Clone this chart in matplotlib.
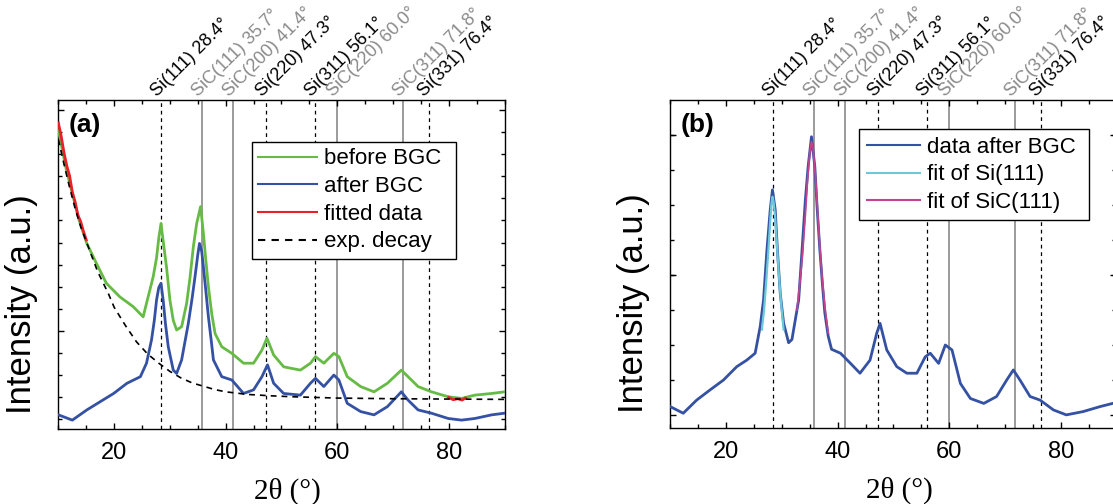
import numpy as np
import matplotlib
matplotlib.use("Agg")
import matplotlib.pyplot as plt
import matplotlib.transforms as mtransforms
from matplotlib.ticker import FixedLocator, MultipleLocator

plt.rcParams['font.family'] = ['Liberation Sans', 'DejaVu Sans']

# reference reflections (2theta in deg)
refl_pos = [28.4, 35.7, 41.4, 47.3, 56.1, 60.0, 71.8, 76.4]
refl_name = ['Si(111)', 'SiC(111)', 'SiC(200)', 'Si(220)',
             'Si(311)', 'SiC(220)', 'SiC(311)', 'Si(331)']

# panel (a): raw pattern (before BGC)
before_x = [10.0, 11.3, 12.5, 13.7, 15.1, 16.8, 18.6, 21.0, 23.4, 25.2, 25.8, 27.0,
            27.6, 28.0, 28.4, 28.8, 29.4, 30.0, 30.6, 31.2, 32.1, 33.0, 33.6, 34.2,
            34.8, 35.5, 36.0, 36.4, 36.9, 37.5, 38.1, 39.3, 41.1, 43.2, 45.0, 46.5,
            47.4, 48.6, 50.4, 53.4, 55.2, 56.1, 57.6, 59.4, 60.3, 61.8, 64.2, 66.6,
            69.0, 71.5, 72.7, 74.5, 76.9, 79.9, 82.3, 84.7, 87.7, 90.0]
before_y = [90.9, 79.7, 71.6, 63.5, 56.4, 50.4, 44.3, 40.2, 37.2, 34.1, 38.2, 46.3,
            52.0, 58.0, 62.5, 57.0, 49.0, 39.2, 33.0, 30.1, 31.1, 38.2, 46.0, 55.4,
            62.5, 67.6, 59.5, 52.0, 43.3, 35.0, 29.0, 25.0, 23.0, 20.0, 20.0, 24.0,
            27.6, 22.5, 18.9, 17.9, 20.0, 22.0, 20.0, 23.0, 22.0, 15.9, 12.9, 11.3,
            13.9, 17.9, 15.9, 12.9, 11.3, 9.8, 9.3, 10.3, 10.8, 11.3]

# panel (a): after background correction
after_x = [10.0, 12.5, 15.1, 17.5, 19.9, 22.3, 24.7, 25.8, 26.7, 27.2, 27.6, 28.0,
           28.4, 28.8, 29.2, 29.7, 30.6, 31.2, 32.1, 33.3, 34.0, 34.5, 35.0, 35.3,
           35.7, 36.0, 36.5, 36.9, 37.4, 37.8, 39.3, 41.1, 43.2, 45.0, 46.5, 47.5,
           48.6, 50.4, 53.4, 55.2, 56.1, 57.6, 59.4, 60.3, 61.8, 64.2, 66.6, 69.0,
           71.5, 72.7, 74.5, 76.9, 79.9, 82.3, 84.7, 87.7, 90.0]
after_y = [4.3, 2.7, 5.8, 8.3, 10.8, 13.9, 15.9, 20.0, 27.1, 33.0, 39.2, 43.0,
           44.3, 39.0, 32.0, 25.0, 17.9, 16.9, 21.0, 32.1, 40.0, 46.3, 53.0, 56.4,
           54.0, 49.3, 41.0, 34.1, 27.0, 21.0, 15.9, 14.9, 10.8, 11.9, 15.9, 19.5,
           13.9, 10.8, 10.3, 13.9, 15.4, 12.9, 16.4, 14.9, 7.8, 5.3, 4.3, 6.8,
           11.3, 8.8, 5.8, 4.8, 3.2, 2.7, 3.2, 4.3, 4.8]

# panel (a): data ranges used for the background fit
fit_lo_x = [10.0, 10.5, 11.0, 11.5, 12.0, 12.5, 13.0, 13.5, 14.0, 14.5, 15.0]
fit_lo_y = [93.0, 89.0, 84.0, 80.0, 77.0, 72.0, 69.0, 65.0, 63.0, 60.0, 57.5]
fit_hi_x = [80.0, 80.8, 81.6, 82.4, 83.0]
fit_hi_y = [9.6, 8.9, 9.2, 8.8, 9.4]

# panel (a): exponential background
decay_x = [10, 11, 12, 13, 14, 15, 16, 17, 18, 19, 20, 22, 24, 26, 28, 30, 32, 34,
           36, 38, 40, 44, 48, 52, 60, 70, 80, 90]
decay_y = [88.0, 80.5, 73.5, 67.0, 61.5, 57.0, 52.5, 48.0, 44.5, 41.0, 37.0, 31.5,
           26.5, 22.8, 20.0, 17.5, 15.5, 14.0, 13.0, 12.0, 11.3, 10.5, 10.1, 9.8,
           9.4, 9.2, 9.1, 9.0]

# panel (b): corrected pattern
bgc_x = [10.0, 12.3, 14.7, 17.1, 19.5, 21.9, 23.7, 25.2, 26.1, 26.7, 27.3, 27.9,
         28.3, 28.8, 29.2, 29.7, 30.3, 31.2, 31.8, 32.4, 33.0, 33.6, 34.2, 34.7,
         35.3, 35.9, 36.3, 36.8, 37.3, 37.7, 38.3, 38.9, 40.5, 42.3, 44.0, 45.8,
         47.0, 47.6, 48.8, 50.6, 52.4, 54.2, 55.7, 56.6, 58.1, 59.3, 60.5, 62.0,
         63.8, 66.2, 68.5, 70.3, 71.5, 72.7, 74.5, 76.3, 78.7, 81.0, 84.0, 87.0, 90.0]
bgc_y = [6.5, 4.5, 8.5, 11.6, 14.6, 18.7, 20.7, 22.8, 30.9, 39.0, 54.0, 66.5,
         72.6, 66.5, 54.0, 41.0, 32.0, 26.0, 27.0, 33.0, 39.0, 54.0, 69.5, 79.7,
         88.8, 79.7, 67.5, 54.3, 43.0, 35.0, 28.0, 24.0, 22.8, 19.7, 16.7, 20.7,
         28.9, 31.9, 23.8, 18.7, 16.7, 16.7, 21.7, 22.8, 19.7, 25.3, 23.8, 13.6,
         9.0, 7.5, 9.6, 14.6, 17.7, 14.6, 9.6, 8.5, 5.5, 4.0, 5.0, 6.5, 7.8]

# panel (b): peak fits
fit_si_x = [26.4, 26.8, 27.2, 27.6, 27.9, 28.1, 28.3, 28.5, 28.8, 29.1, 29.4, 29.8, 30.3]
fit_si_y = [30.0, 36.0, 45.0, 55.0, 63.0, 68.0, 70.5, 69.0, 64.0, 56.0, 48.0, 39.0, 30.0]
fit_sic_x = [32.7, 33.2, 33.7, 34.2, 34.6, 35.0, 35.3, 35.6, 36.0, 36.4, 36.8, 37.2,
             37.7, 38.3]
fit_sic_y = [36.0, 44.0, 53.0, 65.0, 76.0, 84.0, 87.3, 85.0, 77.0, 66.0, 55.0, 46.0,
             37.0, 29.0]

GREEN = '#66bb44'
BLUE = '#3451a3'
RED = '#e8202a'
CYAN = '#6cc9d9'
MAGENTA = '#c2448e'
GREY = '#8a8a8a'

fig = plt.figure(figsize=(11.13, 5.04), dpi=100)
ax1 = fig.add_axes([58.4 / 1113, 75 / 504, 446.1 / 1113, 329 / 504])
ax2 = fig.add_axes([670.4 / 1113, 76 / 504, 446.1 / 1113, 328 / 504])


def setup(ax, ymajor, yminor, tag):
    ax.set_xlim(10, 90)
    ax.set_ylim(0, 100)
    ax.xaxis.set_major_locator(FixedLocator([20, 40, 60, 80]))
    ax.xaxis.set_minor_locator(MultipleLocator(5))
    ax.set_yticks(ymajor)
    ax.set_yticks(yminor, minor=True)
    ax.set_yticklabels([])
    ax.tick_params(which='both', direction='in', top=True, right=True,
                   width=1.0, labelsize=17, pad=9.5)
    ax.tick_params(which='major', length=4.5)
    ax.tick_params(which='minor', length=2.6)
    for s in ax.spines.values():
        s.set_linewidth(1.0)
    ax.set_xlabel('2θ (°)', family='Liberation Serif', size=21)
    ax.xaxis.set_label_coords(0.514, -0.148)
    ax.set_ylabel('Intensity (a.u.)', size=25)
    ax.yaxis.set_label_coords(-0.046, 0.38)

    trans = mtransforms.offset_copy(ax.get_xaxis_transform(), fig=fig,
                                    x=-4, y=3, units='dots')
    for pos, name in zip(refl_pos, refl_name):
        is_sic = name.startswith('SiC')
        if is_sic:
            ax.axvline(pos, color='#808080', lw=1.1, zorder=1)
        else:
            ax.axvline(pos, color='black', lw=0.9, ls=(0, (3, 3)), zorder=1)
        ax.text(pos, 1.0, f'{name} {pos:.1f}°', transform=trans, rotation=45,
                rotation_mode='anchor', ha='left', va='baseline',
                color=GREY if is_sic else 'black', fontsize=13, clip_on=False)

    ax.text(0.022, 0.925, tag, transform=ax.transAxes, fontsize=19,
            fontweight='bold', ha='left', va='center')


# panel (a)
setup(ax1, [29.8, 97.0], [2.92 + 6.72 * k for k in range(15)], '(a)')
ax1.plot(before_x, before_y, color=GREEN, lw=2.0, label='before BGC', zorder=3)
ax1.plot(after_x, after_y, color=BLUE, lw=2.0, label='after BGC', zorder=3)
ax1.plot(fit_lo_x, fit_lo_y, color=RED, lw=2.0, label='fitted data', zorder=4)
ax1.plot(fit_hi_x, fit_hi_y, color=RED, lw=2.0, zorder=4)
ax1.plot(decay_x, decay_y, color='black', lw=1.2, ls=(0, (3.5, 3)),
         label='exp. decay', zorder=5)

leg1 = ax1.legend(loc='upper left', bbox_to_anchor=(0.4333, 0.0, 0.458, 0.873),
                  mode='expand', fontsize=16, fancybox=False, edgecolor='black',
                  framealpha=1, handlelength=2.65, handletextpad=0.3,
                  labelspacing=0.3, borderpad=0.3, borderaxespad=0)
leg1.get_frame().set_linewidth(1.0)
for h in leg1.get_lines():
    h.set_linewidth(1.5)

# panel (b)
setup(ax2, [3.96, 46.65, 89.33], [3.96 + 10.67 * k for k in range(9)], '(b)')
ax2.plot(bgc_x, bgc_y, color=BLUE, lw=2.0, label='data after BGC', zorder=3)
ax2.plot(fit_si_x, fit_si_y, color=CYAN, lw=1.6, label='fit of Si(111)', zorder=4)
ax2.plot(fit_sic_x, fit_sic_y, color=MAGENTA, lw=1.3, label='fit of SiC(111)', zorder=4)

leg2 = ax2.legend(loc='upper left', bbox_to_anchor=(0.4234, 0.0, 0.514, 0.9107),
                  mode='expand', fontsize=16, fancybox=False, edgecolor='black',
                  framealpha=1, handlelength=2.4, handletextpad=0.3,
                  labelspacing=0.3, borderpad=0.33, borderaxespad=0)
leg2.get_frame().set_linewidth(1.0)
for h in leg2.get_lines():
    h.set_linewidth(1.5)

fig.savefig('out.png', dpi=100)
